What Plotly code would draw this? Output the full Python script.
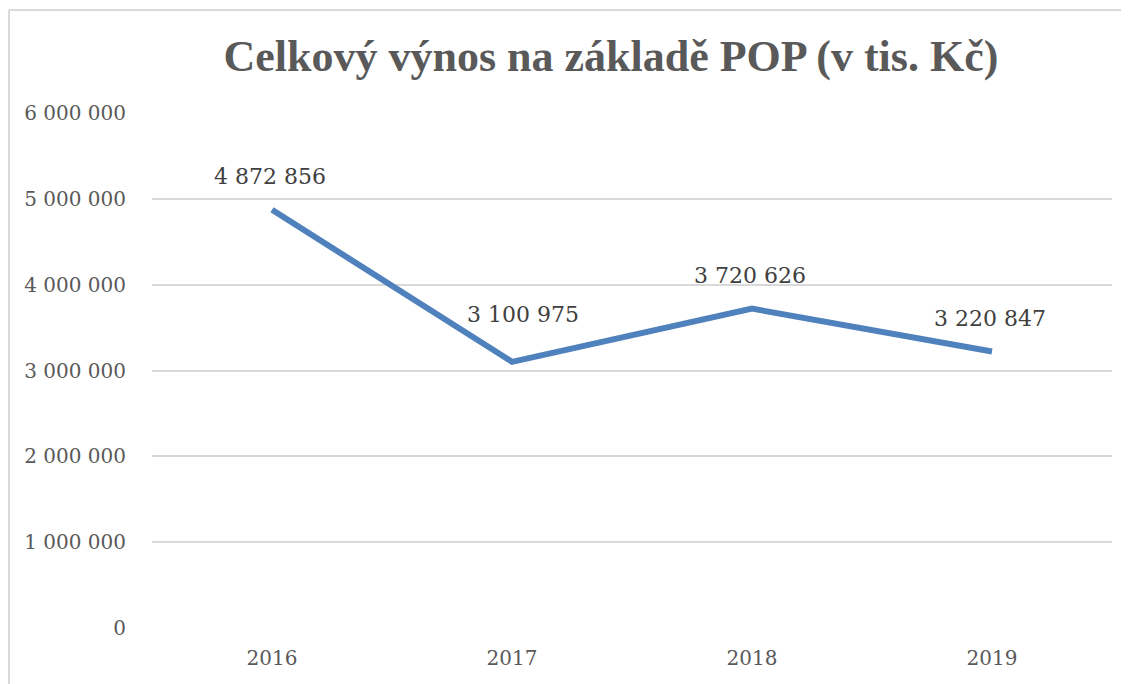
import plotly.graph_objects as go

###Data###
roky = ['2016', '2017', '2018', '2019']
vynos = [4872856, 3100975, 3720626, 3220847]
popisky = ['4 872 856', '3 100 975', '3 720 626', '3 220 847']
tick_vals = [0, 1000000, 2000000, 3000000, 4000000, 5000000, 6000000]
tick_text = ['0', '1 000 000', '2 000 000', '3 000 000', '4 000 000', '5 000 000', '6 000 000']

FONT = "DejaVu Serif"

fig = go.Figure()
fig.add_trace(go.Scatter(
    x=roky,
    y=vynos,
    mode="lines",
    line=dict(color="#4F81BD", width=6),
    hoverinfo="skip",
    showlegend=False
))

###Data labels above the points (x as category index)###
for i, (val, txt) in enumerate(zip(vynos, popisky)):
    fig.add_annotation(
        x=i, y=val, text=txt, showarrow=False,
        xshift=11 if i == 1 else -2,
        yshift=47 if i == 1 else 33,
        font=dict(family=FONT, size=22, color="#404040")
    )

fig.update_layout(
    width=1129,
    height=684,
    margin=dict(l=144, r=25, t=105, b=64),
    paper_bgcolor="white",
    plot_bgcolor="white",
    title=dict(
        text="<b>Celkový výnos na základě POP (v tis. Kč)</b>",
        x=0.534, xanchor="center", y=0.93, yanchor="middle",
        font=dict(family="Liberation Serif", size=44, color="#595959")
    ),
    xaxis=dict(
        type="category",
        range=[-0.5, 3.5],
        showgrid=False,
        showline=False,
        ticks="",
        ticklabelstandoff=16,
        tickfont=dict(family=FONT, size=20, color="#595959")
    ),
    yaxis=dict(
        range=[0, 6000000],
        tickvals=tick_vals,
        ticktext=tick_text,
        showgrid=True,
        gridcolor="#D9D9D9",
        gridwidth=1.5,
        zeroline=False,
        showline=False,
        ticks="",
        ticklabelstandoff=25,
        tickfont=dict(family=FONT, size=20, color="#595959")
    ),
    shapes=[
        dict(type="line", xref="paper", yref="paper", x0=-0.149, x1=1.02, y0=1.2, y1=1.2,
             line=dict(color="#D9D9D9", width=2)),
        dict(type="line", xref="paper", yref="paper", x0=-0.149, x1=-0.149, y0=1.2, y1=-0.13,
             line=dict(color="#D9D9D9", width=2)),
    ]
)

fig.write_html("out.html")
